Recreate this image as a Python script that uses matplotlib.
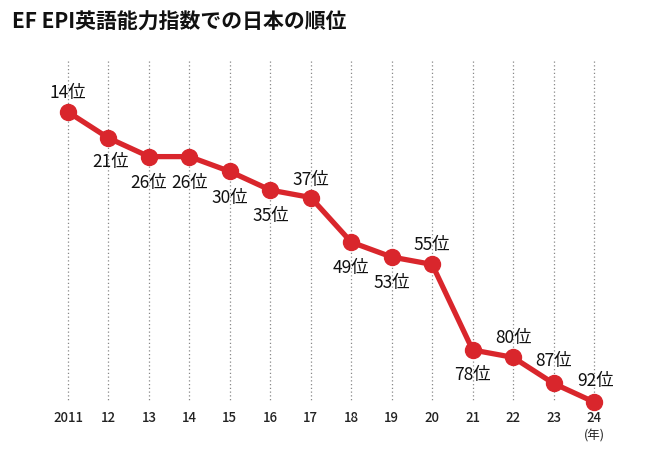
import matplotlib
matplotlib.use("Agg")
import matplotlib.pyplot as plt

years = [2011, 2012, 2013, 2014, 2015, 2016, 2017, 2018, 2019, 2020, 2021, 2022, 2023, 2024]
ranks = [14, 21, 26, 26, 30, 35, 37, 49, 53, 55, 78, 80, 87, 92]
tick_labels = ["2011", "12", "13", "14", "15", "16", "17", "18", "19", "20", "21", "22", "23", "24"]
# label offsets in pixels (dx, dy; dy positive = down)
offsets = [(0, -20), (2, 23), (0, 25), (0, 25), (0, 26), (0, 25), (0, -19), (0, 25),
           (0, 25), (0, -20), (0, 24), (0, -20), (0, -23), (2, -22)]

plt.rcParams["font.family"] = "Noto Sans CJK JP"
fig = plt.figure(figsize=(6.71, 4.6), dpi=100)
ax = fig.add_axes([0, 0, 1, 1])
ax.set_xlim(2009.319, 2025.903)
ax.set_ylim(107.33, -16.39)
ax.axis("off")

red = "#d9262c"
for x in years:
    ax.plot([x, x], [0.3, 92], color="#888888", lw=0.9, ls=(0, (1, 2)), zorder=1)
ax.plot(years, ranks, color=red, lw=3.8, marker="o", ms=11.5, zorder=3)

for x, r, (dx, dy) in zip(years, ranks, offsets):
    ax.annotate(f"{r}位", (x, r), xytext=(dx * 0.72, -dy * 0.72), textcoords="offset points",
                ha="center", va="center", fontsize=12.5, color="#111111", zorder=4)

for x, t in zip(years, tick_labels):
    ax.annotate(t, (x, 92), xytext=(0, -15 * 0.72), textcoords="offset points",
                ha="center", va="center", fontsize=9.5, fontweight="medium", color="#222222")
ax.annotate("(年)", (2024, 92), xytext=(0, -33 * 0.72), textcoords="offset points",
            ha="center", va="center", fontsize=9, color="#222222")

fig.text(12 / 671, 1 - 22 / 460, "EF EPI英語能力指数での日本の順位", fontsize=15,
         fontweight="bold", ha="left", va="center", color="#111111")

fig.savefig("out.png", dpi=100)
